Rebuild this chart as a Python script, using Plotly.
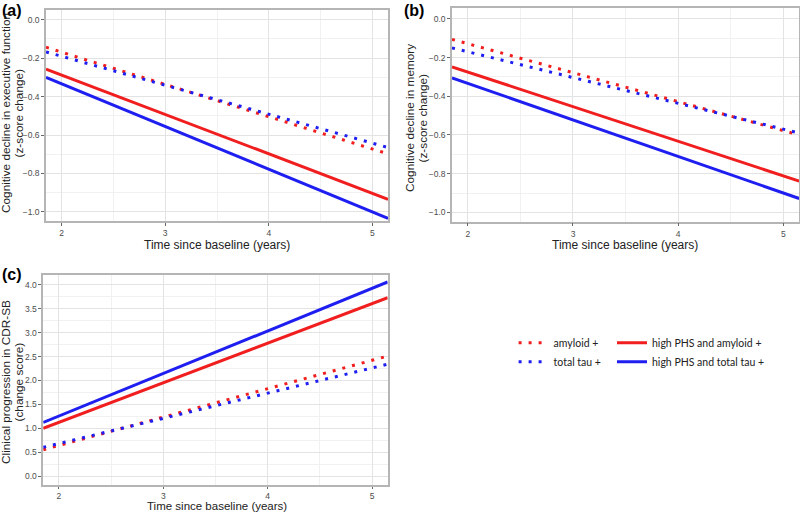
import plotly.graph_objects as go

# time since baseline (years), visible ends of the fitted lines
x_time = [1.85, 5.15]

# (a) executive function, z-score change
exec_amyloid = [-0.144, -0.698]
exec_tau = [-0.168, -0.665]
exec_phs_amyloid = [-0.257, -0.934]
exec_phs_tau = [-0.300, -1.033]

# (b) memory, z-score change
mem_amyloid = [-0.106, -0.600]
mem_tau = [-0.150, -0.590]
mem_phs_amyloid = [-0.248, -0.838]
mem_phs_tau = [-0.305, -0.928]

# (c) CDR-SB change score
cdr_amyloid = [0.55, 2.51]
cdr_tau = [0.60, 2.34]
cdr_phs_amyloid = [1.00, 3.73]
cdr_phs_tau = [1.12, 4.06]

series_names = ["amyloid +", "total tau +", "high PHS and amyloid +", "high PHS and total tau +"]

RED = "#f01e1e"
BLUE = "#1e1ef0"
DOT = "3px,7px"
TICK_FONT = dict(family="Liberation Sans", size=8.5, color="#4d4d4d")
GRID = "#e3e3e3"
MINOR = "#f1f1f1"
BORDER = "#b5b5b5"
W, H = 800, 512

panels = [
    ("x", "y", [exec_amyloid, exec_tau, exec_phs_amyloid, exec_phs_tau]),
    ("x2", "y2", [mem_amyloid, mem_tau, mem_phs_amyloid, mem_phs_tau]),
    ("x3", "y3", [cdr_amyloid, cdr_tau, cdr_phs_amyloid, cdr_phs_tau]),
]

fig = go.Figure()

for i, (xa, ya, ys) in enumerate(panels):
    styles = [
        (RED, DOT, "legend"),
        (BLUE, DOT, "legend"),
        (RED, "solid", "legend2"),
        (BLUE, "solid", "legend2"),
    ]
    for name, y, (color, dash, leg) in zip(series_names, ys, styles):
        fig.add_trace(go.Scatter(
            x=x_time, y=y, mode="lines", name=name,
            line=dict(color=color, width=3, dash=dash),
            xaxis=xa, yaxis=ya, legend=leg,
            showlegend=(i == 0),
        ))


def xax(domain, anchor, ticklen=3):
    return dict(
        domain=domain, anchor=anchor, range=[1.85, 5.15],
        tickvals=[2, 3, 4, 5], ticks="outside", ticklen=ticklen, tickcolor="#666",
        tickfont=TICK_FONT, showgrid=True, gridcolor=GRID, gridwidth=1,
        minor=dict(dtick=0.5, tick0=0, showgrid=True, gridcolor=MINOR),
        zeroline=False, showline=True, mirror=True, linecolor=BORDER, linewidth=1.5,
    )


def yax(domain, anchor, rng, dtick, minor, fmt):
    return dict(
        domain=domain, anchor=anchor, range=rng, dtick=dtick, tick0=0,
        tickformat=fmt, ticks="outside", ticklen=3, tickcolor="#666",
        tickfont=TICK_FONT, showgrid=True, gridcolor=GRID, gridwidth=1,
        minor=dict(dtick=minor, tick0=0, showgrid=True, gridcolor=MINOR),
        zeroline=False, showline=True, mirror=True, linecolor=BORDER, linewidth=1.5,
    )


legend_font = dict(family="Lato", size=10.5, color="#222")

fig.update_layout(
    width=W, height=H,
    margin=dict(l=0, r=0, t=0, b=0),
    paper_bgcolor="white", plot_bgcolor="white",
    xaxis=xax([0.0575, 0.485], "y"),
    yaxis=yax([0.5684, 0.9805], "x", [-1.047, 0.05], 0.2, 0.1, ".1f"),
    xaxis2=xax([0.565, 0.999], "y2"),
    yaxis2=yax([0.567, 0.984], "x2", [-1.048, 0.055], 0.2, 0.1, ".1f"),
    xaxis3=xax([0.054, 0.4846], "y3", ticklen=2),
    yaxis3=yax([0.0521, 0.4623], "x3", [-0.195, 4.2], 0.5, 0.25, ".1f"),
    legend=dict(
        x=0.642, y=0.359, xanchor="left", yanchor="top",
        font=legend_font, bgcolor="rgba(0,0,0,0)", itemwidth=30,
    ),
    legend2=dict(
        x=0.765, y=0.359, xanchor="left", yanchor="top",
        font=legend_font, bgcolor="rgba(0,0,0,0)", itemwidth=30,
    ),
)


def note(text, px, py, size, angle=0, xanchor="center", yanchor="middle", bold=False):
    fig.add_annotation(
        text=f"<b>{text}</b>" if bold else text,
        x=px / W, y=1 - py / H, xref="paper", yref="paper",
        xanchor=xanchor, yanchor=yanchor, textangle=angle, showarrow=False,
        font=dict(family="Liberation Sans", size=size, color="black" if bold else "#222"),
    )


# panel letters
note("(a)", 0, 0, 16, xanchor="left", yanchor="top", bold=True)
note("(b)", 402, 0, 16, xanchor="left", yanchor="top", bold=True)
note("(c)", 0, 264, 16, xanchor="left", yanchor="top", bold=True)

# y axis titles, one annotation per line
note("Cognitive decline in executive function", 6, 113, 11.8, angle=-90)
note("(z-score change)", 18.5, 113, 11.8, angle=-90)
note("Cognitive decline in memory", 410, 118, 11.8, angle=-90)
note("(z-score change)", 422.5, 118, 11.8, angle=-90)
note("Clinical progression in CDR-SB", 6, 382, 11.8, angle=-90)
note("(change score)", 18.5, 382, 11.8, angle=-90)

# x axis titles
for px, py, size in [(217, 245, 12), (625, 245, 12), (217, 506, 11.5)]:
    note("Time since baseline (years)", px, py, size)

fig.write_html(
    "out.html",
    config={"displayModeBar": False},
    post_script="document.body.style.margin='0px';",
)
